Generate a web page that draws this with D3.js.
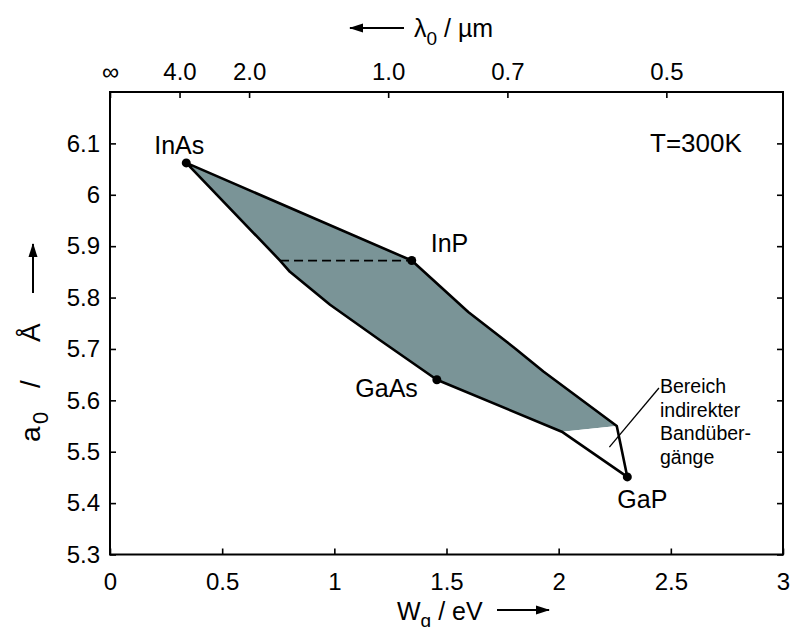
<!DOCTYPE html>
<html>
<head>
<meta charset="utf-8">
<script src="https://cdn.jsdelivr.net/npm/d3@7"></script>
<style>
  body { margin: 0; background: #fff; }
  svg { display: block; }
  text { font-family: "Liberation Sans", Arial, Helvetica, sans-serif; fill: #000; }
</style>
</head>
<body>
<svg id="chart" width="792" height="627"></svg>
<script>
// Axis ticks
const wgTicks = [0, 0.5, 1, 1.5, 2, 2.5, 3];
const wgTickLabels = ["0", "0.5", "1", "1.5", "2", "2.5", "3"];
const a0Ticks = [5.3, 5.4, 5.5, 5.6, 5.7, 5.8, 5.9, 6.0, 6.1];
const a0TickLabels = ["5.3", "5.4", "5.5", "5.6", "5.7", "5.8", "5.9", "6", "6.1"];
const lambdaTicks = [Infinity, 4.0, 2.0, 1.0, 0.7, 0.5];          // µm
const lambdaTickLabels = ["∞", "4.0", "2.0", "1.0", "0.7", "0.5"];
const hcOverE = 1.24;                                               // eV·µm

// Binary compounds: band gap (eV) and lattice constant (Å)
const compoundNames = ["InAs", "InP", "GaAs", "GaP"];
const compoundWg = [0.34, 1.345, 1.457, 2.306];
const compoundA0 = [6.062, 5.872, 5.640, 5.451];

// Quaternary GaInAsP: region of direct band gaps [Wg, a0]
const directRegion = [
  [0.34, 6.062], [1.345, 5.872], [1.597, 5.772], [1.806, 5.701], [1.932, 5.656],
  [2.259, 5.550], [2.014, 5.539], [1.457, 5.640], [1.204, 5.717], [0.981, 5.786],
  [0.802, 5.850], [0.758, 5.872]
];
// Region of indirect band gaps
const indirectRegion = [[2.259, 5.550], [2.306, 5.451], [2.014, 5.539]];
// Outer boundary of the whole material system
const outline = [
  [0.34, 6.062], [1.345, 5.872], [1.597, 5.772], [1.806, 5.701], [1.932, 5.656],
  [2.259, 5.550], [2.306, 5.451], [2.014, 5.539], [1.457, 5.640], [1.204, 5.717],
  [0.981, 5.786], [0.802, 5.850], [0.758, 5.872]
];
// Compositions lattice-matched to InP
const latticeMatchInP = [[0.758, 5.872], [1.345, 5.872]];
// Pointer to the indirect region
const leader = [[2.447, 5.624], [2.226, 5.509]];
const noteLines = ["Bereich", "indirekter", "Bandüber-", "gänge"];
const tempLabel = "T=300K";

const svg = d3.select("#chart");
const x = d3.scaleLinear().domain([0, 3]).range([110, 783]);
const y = d3.scaleLinear().domain([5.3, 6.2]).range([554.5, 92]);
const line = d3.line().x(d => x(d[0])).y(d => y(d[1]));

// arrowhead
svg.append("defs").append("marker")
  .attr("id", "arrow").attr("markerUnits", "userSpaceOnUse")
  .attr("viewBox", "0 0 14 10").attr("refX", 13).attr("refY", 5)
  .attr("markerWidth", 14).attr("markerHeight", 10).attr("orient", "auto")
  .append("path").attr("d", "M0,0.5 L14,5 L0,9.5 Z").attr("fill", "#000");

// regions
svg.append("path").datum(directRegion).attr("d", line.curve(d3.curveLinearClosed))
  .attr("fill", "#7a9497").attr("stroke", "none");
svg.append("path").datum(indirectRegion).attr("d", line.curve(d3.curveLinearClosed))
  .attr("fill", "#fff").attr("stroke", "none");
svg.append("path").datum(outline).attr("d", line.curve(d3.curveLinearClosed))
  .attr("fill", "none").attr("stroke", "#000").attr("stroke-width", 2.6)
  .attr("stroke-linejoin", "round");
svg.append("path").datum(latticeMatchInP).attr("d", line.curve(d3.curveLinear))
  .attr("fill", "none").attr("stroke", "#000").attr("stroke-width", 1.8)
  .attr("stroke-dasharray", "9,5");
svg.append("path").datum(leader).attr("d", line.curve(d3.curveLinear))
  .attr("fill", "none").attr("stroke", "#000").attr("stroke-width", 1.3);

// compound points
svg.append("g").selectAll("circle").data(compoundNames).join("circle")
  .attr("cx", (d, i) => x(compoundWg[i])).attr("cy", (d, i) => y(compoundA0[i]))
  .attr("r", 4.5).attr("fill", "#000");

// compound labels (offsets relative to each point)
const labelOffsets = [[-7, -9, "middle"], [19, -9, "start"], [-19, 17, "end"], [15, 31, "middle"]];
svg.append("g").selectAll("text").data(compoundNames).join("text")
  .attr("x", (d, i) => x(compoundWg[i]) + labelOffsets[i][0])
  .attr("y", (d, i) => y(compoundA0[i]) + labelOffsets[i][1])
  .attr("text-anchor", (d, i) => labelOffsets[i][2])
  .attr("font-size", 25).text(d => d);

svg.append("text").attr("x", 650).attr("y", 152).attr("font-size", 26).text(tempLabel);

svg.append("g").selectAll("text").data(noteLines).join("text")
  .attr("x", 660).attr("y", (d, i) => 393 + i * 23.5)
  .attr("font-size", 19.5).text(d => d);

// axes
function styleAxis(g) {
  g.select(".domain").remove();
  g.selectAll(".tick line").attr("stroke", "#000").attr("stroke-width", 1.6);
  g.selectAll(".tick text").attr("font-size", 24).attr("fill", "#000")
    .attr("font-family", "'Liberation Sans', Arial, sans-serif");
}
svg.append("g").attr("transform", `translate(0,${y(5.3)})`)
  .call(d3.axisBottom(x).tickValues(wgTicks).tickFormat((d, i) => wgTickLabels[i])
    .tickSizeInner(-6).tickSizeOuter(0).tickPadding(18))
  .call(styleAxis);
svg.append("g").attr("transform", `translate(${x(0)},0)`)
  .call(d3.axisLeft(y).tickValues(a0Ticks).tickFormat((d, i) => a0TickLabels[i])
    .tickSizeInner(-6).tickSizeOuter(0).tickPadding(10))
  .call(styleAxis);
svg.append("g").attr("transform", `translate(0,${y(6.2)})`)
  .call(d3.axisTop(x).tickValues(lambdaTicks.map(l => hcOverE / l))
    .tickFormat((d, i) => lambdaTickLabels[i])
    .tickSizeInner(-6).tickSizeOuter(0).tickPadding(12))
  .call(styleAxis);
svg.append("g").attr("transform", `translate(${x(3)},0)`)
  .call(d3.axisRight(y).tickValues(a0Ticks).tickFormat("")
    .tickSizeInner(-6).tickSizeOuter(0))
  .call(styleAxis);

// frame
svg.append("rect").attr("x", x(0)).attr("y", y(6.2))
  .attr("width", x(3) - x(0)).attr("height", y(5.3) - y(6.2))
  .attr("fill", "none").attr("stroke", "#000").attr("stroke-width", 2);

// axis titles
const bt = svg.append("text").attr("x", 397).attr("y", 620).attr("font-size", 25);
bt.append("tspan").text("W");
bt.append("tspan").attr("font-size", 19).attr("dy", 7).text("g");
bt.append("tspan").attr("dy", -7).text(" / eV");
svg.append("line").attr("x1", 497).attr("x2", 549).attr("y1", 610).attr("y2", 610)
  .attr("stroke", "#000").attr("stroke-width", 2).attr("marker-end", "url(#arrow)");

const tt = svg.append("text").attr("x", 414).attr("y", 37).attr("font-size", 25);
tt.append("tspan").text("λ");
tt.append("tspan").attr("font-size", 19).attr("dy", 8).text("0");
tt.append("tspan").attr("dy", -8).text(" / µm");
svg.append("line").attr("x1", 404).attr("x2", 350).attr("y1", 28).attr("y2", 28)
  .attr("stroke", "#000").attr("stroke-width", 2).attr("marker-end", "url(#arrow)");

const lt = svg.append("text").attr("transform", "translate(40,442) rotate(-90)")
  .attr("font-size", 28);
lt.append("tspan").attr("x", 0).attr("y", 0).text("a");
lt.append("tspan").attr("x", 18).attr("y", 8).attr("font-size", 22).text("0");
lt.append("tspan").attr("x", 54).attr("y", 0).text("/");
lt.append("tspan").attr("x", 100).attr("y", 0).text("Å");
svg.append("line").attr("x1", 33).attr("x2", 33).attr("y1", 293).attr("y2", 244)
  .attr("stroke", "#000").attr("stroke-width", 2).attr("marker-end", "url(#arrow)");
</script>
</body>
</html>
